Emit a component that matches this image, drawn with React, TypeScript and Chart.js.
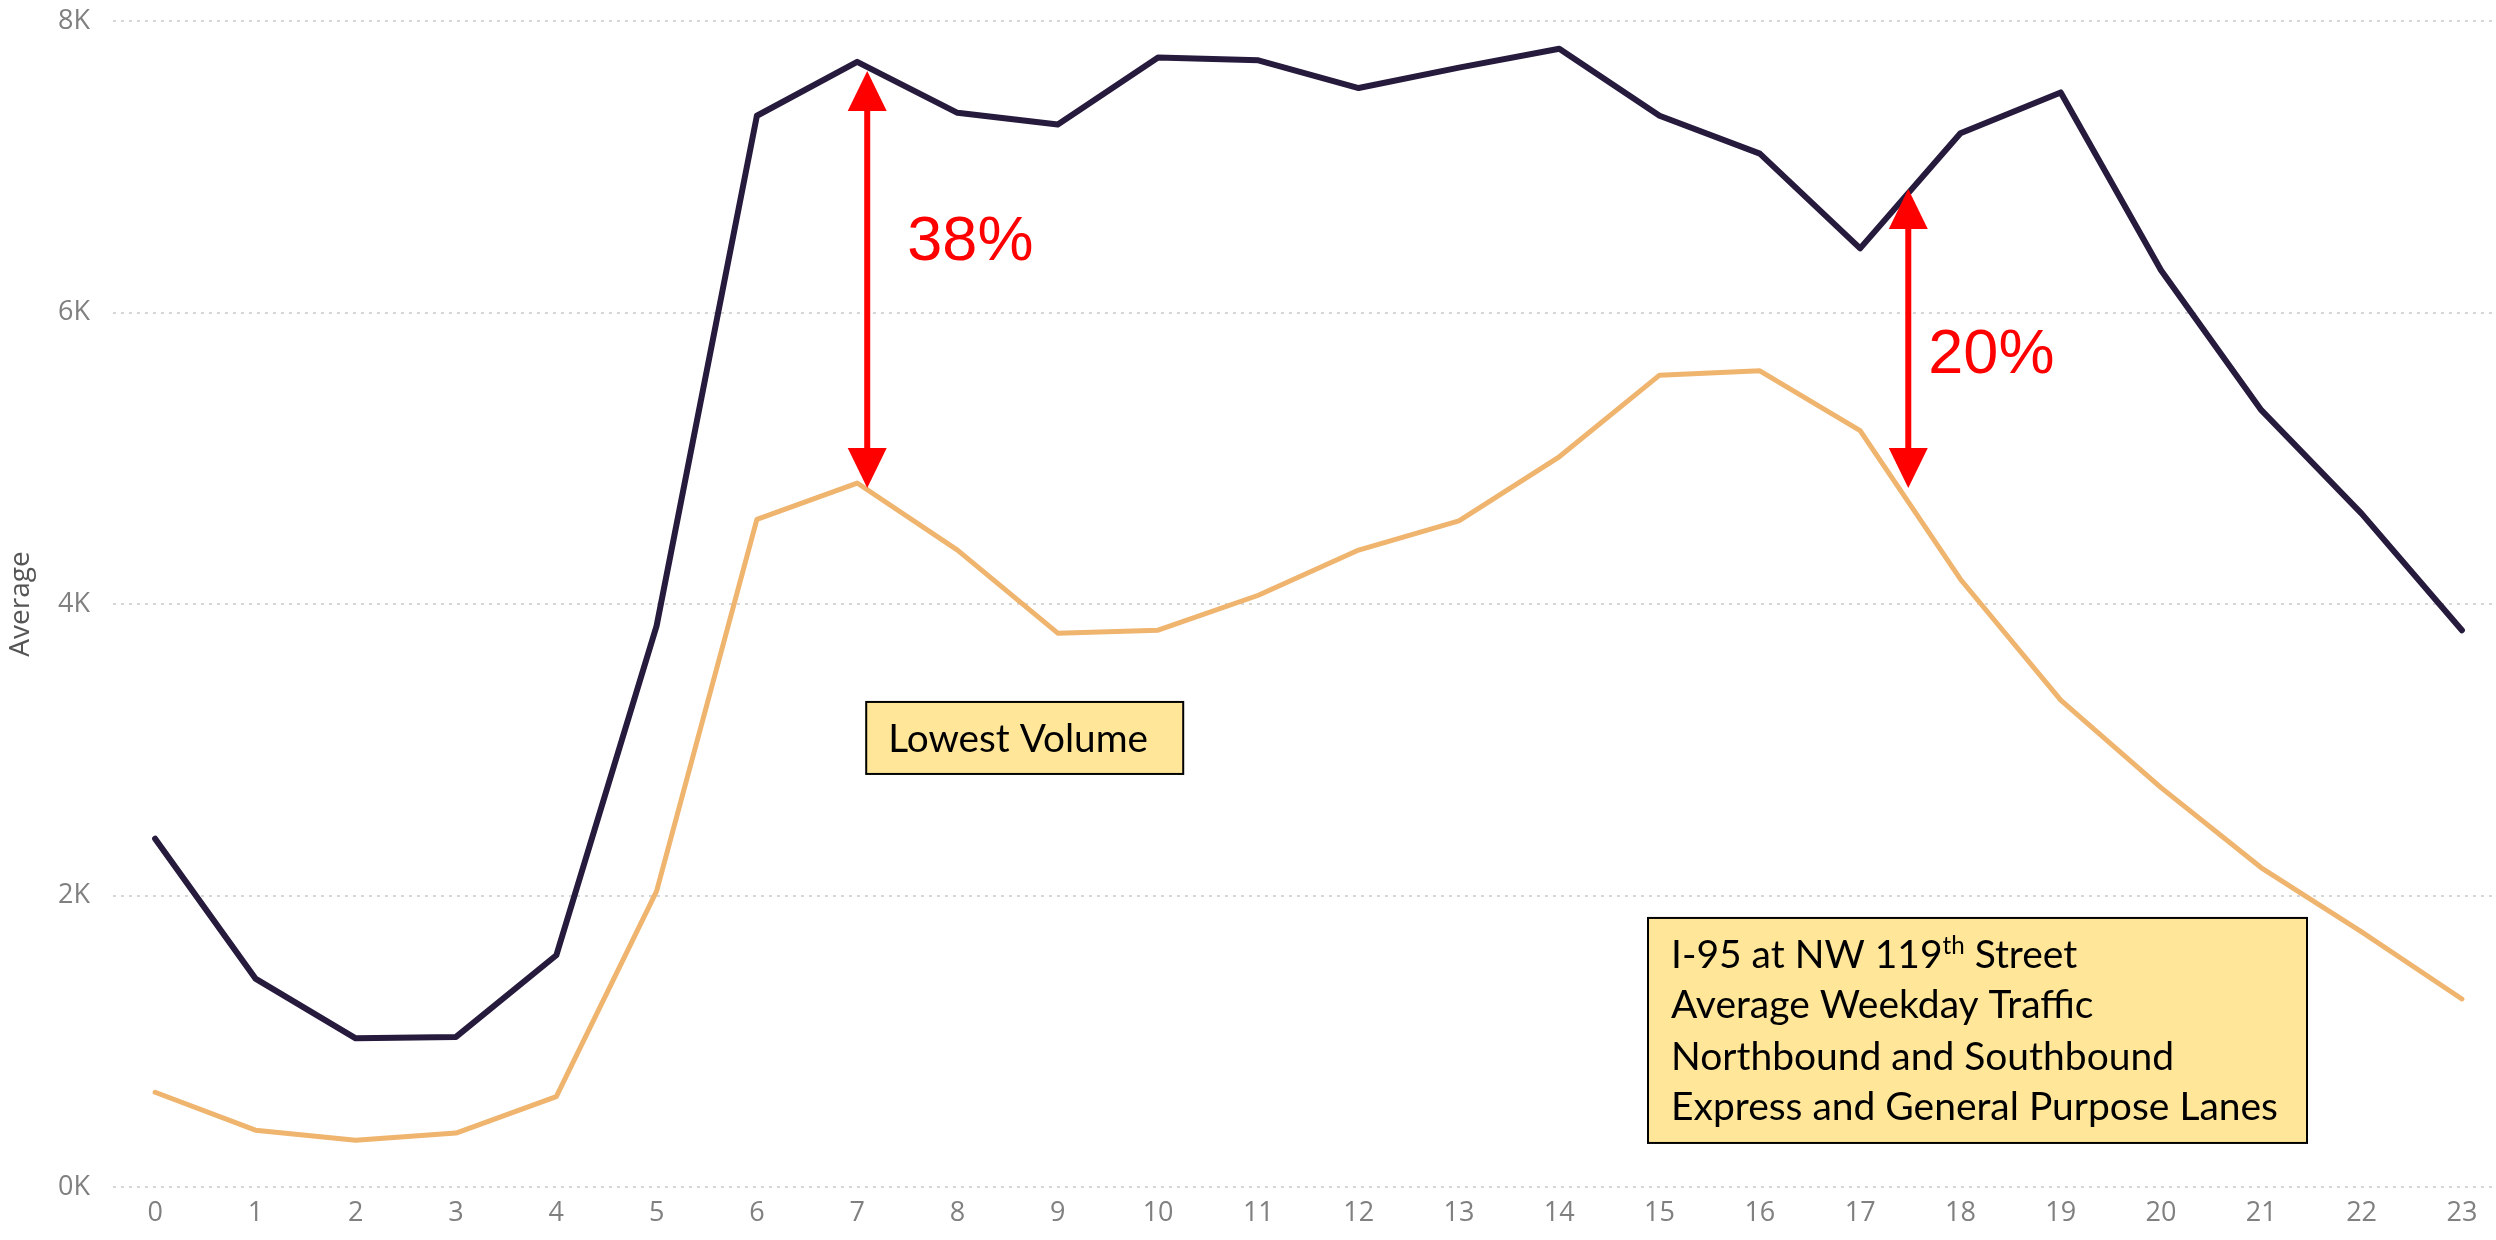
import React, { useEffect, useRef } from "react";
import { Chart, registerables } from "chart.js";

Chart.register(...registerables);

// ---------- data ----------
const hours = [0, 1, 2, 3, 4, 5, 6, 7, 8, 9, 10, 11, 12, 13, 14, 15, 16, 17, 18, 19, 20, 21, 22, 23];
const totalLanes = [2390, 1430, 1020, 1030, 1590, 3850, 7350, 7720, 7370, 7290, 7750, 7730, 7540, 7680, 7810, 7350, 7090, 6440, 7230, 7510, 6290, 5330, 4620, 3820];
const lowestVolume = [650, 390, 320, 370, 620, 2030, 4580, 4830, 4370, 3800, 3820, 4060, 4370, 4570, 5010, 5570, 5600, 5190, 4170, 3340, 2740, 2190, 1750, 1290];
const yTickValues = [0, 2000, 4000, 6000, 8000];
const yTickLabels = ["0K", "2K", "4K", "6K", "8K"];

// arrow annotations (data units): x, top value, bottom value, label, label anchor
const arrowX = [7.1, 17.48];
const arrowTop = [7657, 6847];
const arrowBottom = [4796, 4796];
const arrowLabels = ["38%", "20%"];
const arrowLabelX = [7.5, 17.68];
const arrowLabelY = [6360, 5585];

// text boxes (anchored in data units)
const lowBoxText = ["Lowest Volume"];
const infoBoxLines = ["I-95 at NW 119|th| Street", "Average Weekday Traffic", "Northbound and Southbound", "Express and General Purpose Lanes"];

const DARK = "#261a3d";
const ORANGE = "#efb46e";
const RED = "#ff0000";
const BOX_FILL = "#ffe699";
const BOX_FONT = "Lato, 'Open Sans', sans-serif";

const annotationPlugin = {
  id: "annotations",
  afterDatasetsDraw(chart: any) {
    const ctx = chart.ctx as CanvasRenderingContext2D;
    const xs = chart.scales.x;
    const ys = chart.scales.y;
    ctx.save();
    // arrows
    for (let i = 0; i < arrowX.length; i++) {
      const px = xs.getPixelForValue(arrowX[i]);
      const t = ys.getPixelForValue(arrowTop[i]);
      const b = ys.getPixelForValue(arrowBottom[i]);
      const hh = 40;
      const hw = 19.5;
      ctx.strokeStyle = RED;
      ctx.lineWidth = 6;
      ctx.beginPath();
      ctx.moveTo(px, t + hh - 2);
      ctx.lineTo(px, b - hh + 2);
      ctx.stroke();
      ctx.fillStyle = RED;
      ctx.beginPath();
      ctx.moveTo(px, t);
      ctx.lineTo(px - hw, t + hh);
      ctx.lineTo(px + hw, t + hh);
      ctx.closePath();
      ctx.fill();
      ctx.beginPath();
      ctx.moveTo(px, b);
      ctx.lineTo(px - hw, b - hh);
      ctx.lineTo(px + hw, b - hh);
      ctx.closePath();
      ctx.fill();
      ctx.font = "63px 'Liberation Sans', Arial, sans-serif";
      ctx.textAlign = "left";
      ctx.textBaseline = "alphabetic";
      ctx.fillText(arrowLabels[i], xs.getPixelForValue(arrowLabelX[i]), ys.getPixelForValue(arrowLabelY[i]));
    }

    // font size fitting to reference widths
    ctx.font = `100px ${BOX_FONT}`;
    const wLong = ctx.measureText("Express and General Purpose Lanes").width;
    const infoSize = (607 / wLong) * 100;
    const wLow = ctx.measureText("Lowest Volume").width;
    const lowSize = (260 / wLow) * 100;

    // Lowest Volume box
    {
      const left = xs.getPixelForValue(7.09);
      const top = ys.getPixelForValue(3328);
      const w = 317, h = 72;
      ctx.fillStyle = BOX_FILL;
      ctx.fillRect(left, top, w, h);
      ctx.strokeStyle = "#000";
      ctx.lineWidth = 2;
      ctx.strokeRect(left, top, w, h);
      ctx.fillStyle = "#000";
      ctx.font = `${lowSize}px ${BOX_FONT}`;
      ctx.fillText(lowBoxText[0], left + 22, top + 50);
    }
    // info box
    {
      const left = xs.getPixelForValue(14.885);
      const top = ys.getPixelForValue(1846);
      const w = 659, h = 225;
      ctx.fillStyle = BOX_FILL;
      ctx.fillRect(left, top, w, h);
      ctx.strokeStyle = "#000";
      ctx.lineWidth = 2;
      ctx.strokeRect(left, top, w, h);
      ctx.fillStyle = "#000";
      const offsets = [50, 100, 152, 202];
      infoBoxLines.forEach((line, i) => {
        const parts = line.split("|");
        let x = left + 23;
        const y = top + offsets[i];
        parts.forEach((p, j) => {
          const sup = j % 2 === 1;
          ctx.font = `${sup ? infoSize * 0.62 : infoSize}px ${BOX_FONT}`;
          ctx.fillText(p, x, sup ? y - 14 : y);
          x += ctx.measureText(p).width;
        });
      });
    }
    ctx.restore();
  },
};

export default function App() {
  const ref = useRef<HTMLCanvasElement | null>(null);
  useEffect(() => {
    if (!ref.current) return;
    const chart = new Chart(ref.current, {
      type: "line",
      data: {
        datasets: [
          {
            label: "Total",
            data: hours.map((h, i) => ({ x: h, y: totalLanes[i] })),
            borderColor: DARK,
            borderWidth: 6,
            pointRadius: 0,
            tension: 0,
            borderJoinStyle: "round",
            borderCapStyle: "round",
          },
          {
            label: "Lowest",
            data: hours.map((h, i) => ({ x: h, y: lowestVolume[i] })),
            borderColor: ORANGE,
            borderWidth: 5,
            pointRadius: 0,
            tension: 0,
            borderJoinStyle: "round",
            borderCapStyle: "round",
          },
        ],
      },
      options: {
        responsive: false,
        animation: false,
        layout: { padding: { top: 21, right: 0, left: 0, bottom: 0 } },
        plugins: { legend: { display: false }, tooltip: { enabled: false } },
        scales: {
          x: {
            type: "linear",
            min: -0.42,
            max: 23.34,
            afterFit: (s: any) => {
              s.height = 53;
              s.paddingLeft = 0;
              s.paddingRight = 0;
            },
            afterBuildTicks: (s: any) => {
              s.ticks = hours.map((v) => ({ value: v }));
            },
            grid: { display: false, drawTicks: false },
            border: { display: false },
            ticks: {
              padding: 10,
              color: "#808080",
              font: { family: "'Open Sans', 'Noto Sans', sans-serif", size: 27 },
              callback: (v: any) => String(v),
              autoSkip: false,
              maxRotation: 0,
            },
          },
          y: {
            min: 0,
            max: 8000,
            afterFit: (s: any) => {
              s.width = 113;
              s.paddingTop = 0;
              s.paddingBottom = 0;
            },
            afterBuildTicks: (s: any) => {
              s.ticks = yTickValues.map((v) => ({ value: v }));
            },
            grid: { color: "#d6d6d6", lineWidth: 2, drawTicks: false },
            border: { display: false, dash: [3, 5] },
            ticks: {
              padding: 23,
              color: "#808080",
              font: { family: "'Open Sans', 'Noto Sans', sans-serif", size: 27 },
              callback: (v: any) => yTickLabels[yTickValues.indexOf(Number(v))] ?? "",
            },
            title: {
              display: true,
              text: "Average",
              color: "#555555",
              font: { family: "'Open Sans', 'Noto Sans', sans-serif", size: 28 },
              padding: { top: 4, bottom: 0 },
            },
          },
        },
      },
      plugins: [annotationPlugin],
    } as any);
    return () => chart.destroy();
  }, []);
  return (
    <div style={{ position: "fixed", left: 0, top: 0, width: 2496, height: 1240, background: "#fff", overflow: "hidden" }}>
      <canvas ref={ref} width={2496} height={1240} style={{ display: "block", width: 2496, height: 1240 }} />
    </div>
  );
}
